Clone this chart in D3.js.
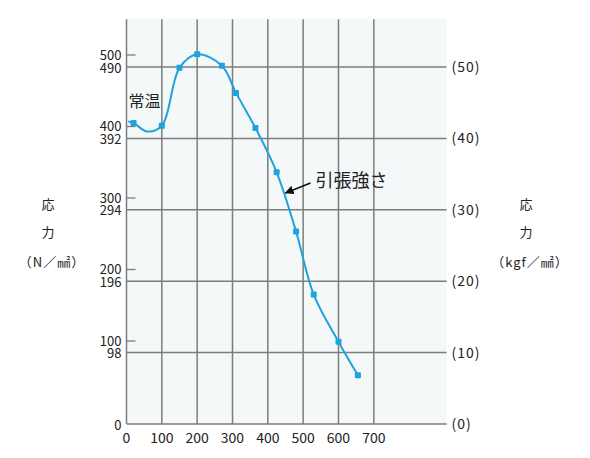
<!DOCTYPE html>
<html>
<head>
<meta charset="utf-8">
<script src="https://cdn.jsdelivr.net/npm/d3@7"></script>
<style>
  body { margin: 0; background: #fff; }
  text { font-family: "Noto Sans CJK JP", "DejaVu Sans", sans-serif; fill: #222; }
</style>
</head>
<body>
<div id="chart"></div>
<script>
// temperature (°C) and tensile strength (N/mm2) at the plotted markers
var temps  = [20, 100, 150, 200, 270, 310, 365, 425, 480, 530, 600, 655];
var stress = [405, 401, 482, 501, 485, 447, 398, 336, 253, 165, 99, 52];

// extra points (start of line and the dip)
var traceTemps  = [5, 58];
var traceStress = [407, 393];

var xTicks = [0, 100, 200, 300, 400, 500, 600, 700];
var nTicks = [100, 200, 300, 400, 500];          // N/mm2 short ticks
var kgfTicks = [0, 10, 20, 30, 40, 50];           // kgf/mm2 grid lines
var nGridLabels = ["0", "98", "196", "294", "392", "490"];
var kgfLabels = ["(0)", "(10)", "(20)", "(30)", "(40)", "(50)"];

var roomTempLabel = "常温";
var tensileLabel = "引張強さ";
var tensileAt = {temp: 450, stress: 307};

var W = 590, H = 458;

var x = d3.scaleLinear().domain([0, 906]).range([126.5, 446.6]);
var yKgf = d3.scaleLinear().domain([0, 50]).range([424, 67]);
var yN = d3.scaleLinear().domain([100, 500]).range([341, 55]);
var topKgf = 56.7;

var svg = d3.select("#chart").append("svg")
  .attr("width", W)
  .attr("height", H);

var defs = svg.append("defs");
defs.append("marker")
  .attr("id", "arrow")
  .attr("viewBox", "0 0 10 10")
  .attr("refX", 9).attr("refY", 5)
  .attr("markerWidth", 9).attr("markerHeight", 9)
  .attr("markerUnits", "userSpaceOnUse")
  .attr("orient", "auto")
  .append("path")
  .attr("d", "M0,0 L10,5 L0,10 z")
  .attr("fill", "#111");

var x0 = x(0), x1 = x.range()[1];
var yTop = yKgf(topKgf), yBase = yKgf(0);

// plot background
svg.append("rect")
  .attr("x", x0).attr("y", yTop)
  .attr("width", x1 - x0).attr("height", yBase - yTop)
  .attr("fill", "#f4f8f8");

// vertical grid
svg.append("g").selectAll("line")
  .data(xTicks)
  .join("line")
  .attr("x1", function(d) { return x(d); })
  .attr("x2", function(d) { return x(d); })
  .attr("y1", yTop).attr("y2", yBase)
  .attr("stroke", "#7d7d7d")
  .attr("stroke-width", 1.5);

// horizontal grid (kgf)
svg.append("g").selectAll("line")
  .data(kgfTicks)
  .join("line")
  .attr("x1", x0).attr("x2", x1)
  .attr("y1", function(d) { return yKgf(d); })
  .attr("y2", function(d) { return yKgf(d); })
  .attr("stroke", "#7d7d7d")
  .attr("stroke-width", 1.5);

// short N/mm2 ticks
svg.append("g").selectAll("line")
  .data(nTicks)
  .join("line")
  .attr("x1", x0).attr("x2", x0 + 9)
  .attr("y1", function(d) { return yN(d); })
  .attr("y2", function(d) { return yN(d); })
  .attr("stroke", "#7d7d7d")
  .attr("stroke-width", 1.3);

// left labels
svg.append("g").selectAll("text")
  .data(nTicks)
  .join("text")
  .attr("x", x0 - 5)
  .attr("y", function(d) { return yN(d); })
  .attr("dy", "0.35em")
  .attr("text-anchor", "end")
  .style("font-size", "13px")
  .text(function(d) { return d; });

svg.append("g").selectAll("text")
  .data(kgfTicks)
  .join("text")
  .attr("x", x0 - 5)
  .attr("y", function(d) { return yKgf(d) + 1; })
  .attr("dy", "0.35em")
  .attr("text-anchor", "end")
  .style("font-size", "13px")
  .text(function(d, i) { return nGridLabels[i]; });

// right labels
svg.append("g").selectAll("text")
  .data(kgfTicks)
  .join("text")
  .attr("x", x1 + 5)
  .attr("y", function(d) { return yKgf(d); })
  .attr("dy", "0.35em")
  .style("font-size", "14px")
  .style("letter-spacing", "1px")
  .text(function(d, i) { return kgfLabels[i]; });

// bottom labels
svg.append("g").selectAll("text")
  .data(xTicks)
  .join("text")
  .attr("x", function(d) { return x(d); })
  .attr("y", 438)
  .attr("dy", "0.35em")
  .attr("text-anchor", "middle")
  .style("font-size", "14px")
  .text(function(d) { return d; });

// axis titles
function axisTitle(cx, unit) {
  var g = svg.append("g").attr("text-anchor", "middle").style("font-size", "13px");
  g.append("text").attr("x", cx).attr("y", 204).attr("dy", "0.35em").text("応");
  g.append("text").attr("x", cx).attr("y", 232).attr("dy", "0.35em").text("力");
  g.append("text").attr("x", cx + 4).attr("y", 262).attr("dy", "0.35em")
    .style("letter-spacing", "1px").text(unit);
}
axisTitle(48, "（N／㎟）");
axisTitle(526, "（kgf／㎟）");

// curve
var trace = temps.map(function(t, i) { return {t: t, s: stress[i]}; })
  .concat(traceTemps.map(function(t, i) { return {t: t, s: traceStress[i]}; }))
  .sort(function(a, b) { return a.t - b.t; });

var line = d3.line()
  .x(function(d) { return x(d.t); })
  .y(function(d) { return yN(d.s); })
  .curve(d3.curveCatmullRom.alpha(0.5));

svg.append("path")
  .datum(trace)
  .attr("d", line)
  .attr("fill", "none")
  .attr("stroke", "#1ea3de")
  .attr("stroke-width", 2);

svg.append("g").selectAll("rect")
  .data(temps)
  .join("rect")
  .attr("x", function(d) { return x(d) - 3; })
  .attr("y", function(d, i) { return yN(stress[i]) - 3; })
  .attr("width", 6).attr("height", 6)
  .attr("rx", 1)
  .attr("fill", "#1ea3de");

// annotations
svg.append("text")
  .attr("x", x(temps[0]) - 5)
  .attr("y", yN(stress[0]) - 22)
  .attr("dy", "0.35em")
  .style("font-size", "16px")
  .text(roomTempLabel);

var ax = x(tensileAt.temp), ay = yN(tensileAt.stress);
svg.append("line")
  .attr("x1", ax + 25).attr("y1", ay - 10)
  .attr("x2", ax).attr("y2", ay)
  .attr("stroke", "#111")
  .attr("stroke-width", 1.5)
  .attr("marker-end", "url(#arrow)");

svg.append("text")
  .attr("x", ax + 30)
  .attr("y", ay - 12)
  .attr("dy", "0.35em")
  .style("font-size", "18px")
  .text(tensileLabel);
</script>
</body>
</html>
